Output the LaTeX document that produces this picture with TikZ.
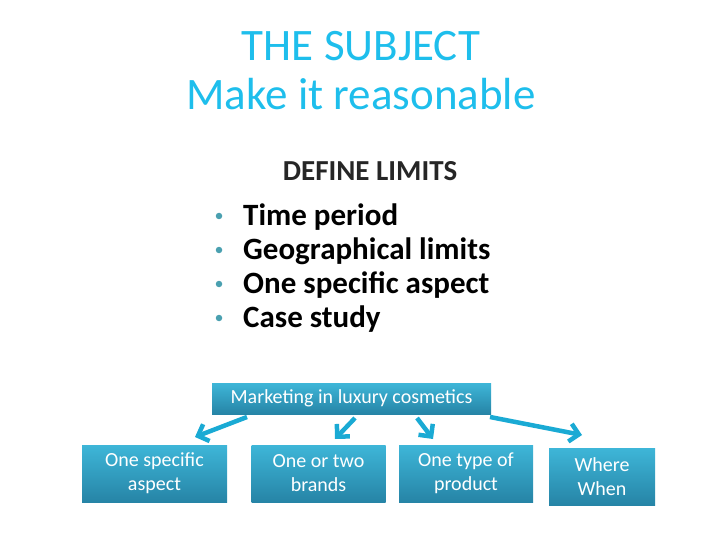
\documentclass[tikz,border=0pt]{standalone}
\usepackage{fontspec}
\setmainfont{Carlito}
\usetikzlibrary{arrows.meta}
\definecolor{titlecol}{RGB}{30,190,236}
\definecolor{boxtop}{RGB}{62,182,216}
\definecolor{boxbot}{RGB}{38,132,166}
\definecolor{arrcol}{RGB}{26,170,212}
\definecolor{bulcol}{RGB}{74,160,176}
\tikzset{
  box/.style={top color=boxtop, bottom color=boxbot, draw=none, inner sep=0pt,
    text=white, align=center, font=\fontsize{20}{24}\selectfont},
  conn/.style={draw=arrcol, line width=4.5pt, -{Straight Barb[length=9pt,width=18pt,line width=4.5pt]}},
  bul/.style={circle, fill=bulcol, inner sep=0pt, minimum size=6.5pt},
  item/.style={anchor=west, inner sep=0pt, font=\fontsize{31}{33}\selectfont\bfseries}
}
\begin{document}
\begin{tikzpicture}[x=1pt,y=-1pt]
\useasboundingbox (0,0) rectangle (720,540);
\node[text=titlecol, align=center, font=\fontsize{45}{49}\selectfont] (title) at (361,71) {THE SUBJECT\\Make it reasonable};
\node[font=\fontsize{29}{30}\selectfont\bfseries, text=black!85] (def) at (370,171) {DEFINE LIMITS};
\node[item] (i1) at (243,217) {Time period};
\node[item] (i2) at (243,251) {Geographical limits};
\node[item] (i3) at (243,285) {One specific aspect};
\node[item] (i4) at (243,319) {Case study};
\node[bul] (b1) at (219,216) {};
\node[bul] (b2) at (219,250) {};
\node[bul] (b3) at (219,284) {};
\node[bul] (b4) at (219,318) {};
\node[box, minimum width=279pt, minimum height=31pt] (top) at (351.5,398.5) {Marketing in luxury cosmetics};
\node[box, minimum width=145pt, minimum height=57pt] (c1) at (154.5,473.5) {One specific\\aspect};
\node[box, minimum width=134pt, minimum height=57pt] (c2) at (318.5,473.5) {One or two\\brands};
\node[box, minimum width=134pt, minimum height=57pt] (c3) at (466,473.5) {One type of\\product};
\node[box, minimum width=106pt, minimum height=57pt] (c4) at (602,476.5) {Where\\When};
\coordinate (s1) at (247,417);
\coordinate (e1) at (195,437);
\coordinate (s2) at (355,418);
\coordinate (e2) at (335,439);
\coordinate (s3) at (417,418);
\coordinate (e3) at (433,439);
\coordinate (s4) at (490,417);
\coordinate (e4) at (582,435);
\draw[conn] (s1) -- (e1);
\draw[conn] (s2) -- (e2);
\draw[conn] (s3) -- (e3);
\draw[conn] (s4) -- (e4);
\end{tikzpicture}
\end{document}
